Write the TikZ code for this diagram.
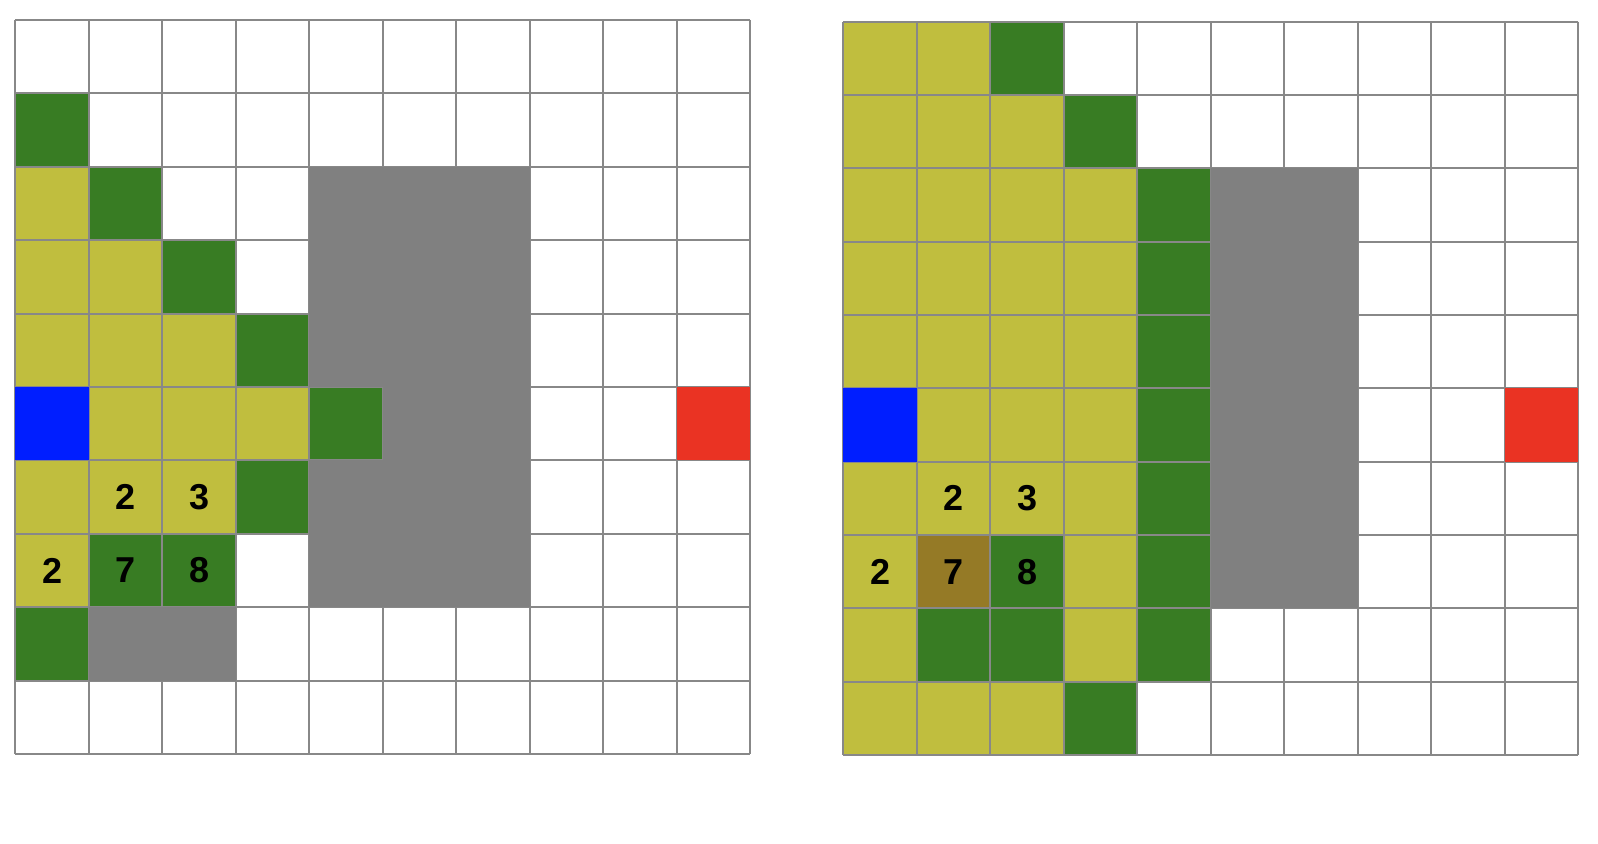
\documentclass[tikz,border=0pt]{standalone}
\usepackage{fontspec}
\setmainfont{Liberation Sans}
\definecolor{cGreen}{RGB}{56,124,35}
\definecolor{cYellow}{RGB}{192,190,62}
\definecolor{cWall}{RGB}{128,128,128}
\definecolor{cLine}{RGB}{136,136,136}
\definecolor{cBlue}{RGB}{0,30,255}
\definecolor{cRed}{RGB}{234,51,35}
\definecolor{cBrown}{RGB}{149,122,38}
\tikzset{
  gridline/.style={draw=cLine, line width=1pt},
  numlabel/.style={font=\fontsize{18}{20}\selectfont\bfseries, text=black, inner sep=0pt},
}
\begin{document}
\begin{tikzpicture}[x=0.5pt,y=-0.5pt]
\fill[white] (0,0) rectangle (1598,844);
\useasboundingbox (0,0) rectangle (1598,844);
% ---------------- left grid ----------------
\begin{scope}[shift={(7.65pt,-10pt)},x=36.75pt,y=-36.7pt]
  \foreach \c/\r in {0/2,0/3,1/3,0/4,1/4,2/4,1/5,2/5,3/5,0/6,1/6,2/6,0/7}
    \fill[cYellow] (\c,\r) rectangle ++(1,1);
  \foreach \c/\r in {0/1,1/2,2/3,3/4,4/5,3/6,1/7,2/7,0/8}
    \fill[cGreen] (\c,\r) rectangle ++(1,1);
  \foreach \k in {0,...,10} {
    \draw[gridline] (\k,0) -- (\k,10);
    \draw[gridline] (0,\k) -- (10,\k);
  }
  \fill[cWall] (4,2) rectangle (7,5);
  \fill[cWall] (5,5) rectangle (7,6);
  \fill[cWall] (4,6) rectangle (7,8);
  \fill[cWall] (1,8) rectangle (3,9);
  \fill[cBlue] (0,5) rectangle ++(1,1);
  \fill[cRed] (9,5) rectangle ++(1,1);
  \node[numlabel] (lA) at (1.5,6.5) {2};
  \node[numlabel] (lB) at (2.5,6.5) {3};
  \node[numlabel] (lC) at (0.5,7.5) {2};
  \node[numlabel] (lD) at (1.5,7.5) {7};
  \node[numlabel] (lE) at (2.5,7.5) {8};
\end{scope}
% ---------------- right grid ----------------
\begin{scope}[shift={(421.65pt,-10.85pt)},x=36.75pt,y=-36.67pt]
  \foreach \c/\r in {0/0,1/0,0/1,1/1,2/1,
                     0/2,1/2,2/2,3/2,0/3,1/3,2/3,3/3,0/4,1/4,2/4,3/4,
                     1/5,2/5,3/5,0/6,1/6,2/6,3/6,0/7,3/7,0/8,3/8,0/9,1/9,2/9}
    \fill[cYellow] (\c,\r) rectangle ++(1,1);
  \foreach \c/\r in {2/0,3/1,4/2,4/3,4/4,4/5,4/6,4/7,4/8,2/7,1/8,2/8,3/9}
    \fill[cGreen] (\c,\r) rectangle ++(1,1);
  \fill[cBrown] (1,7) rectangle ++(1,1);
  \foreach \k in {0,...,10} {
    \draw[gridline] (\k,0) -- (\k,10);
    \draw[gridline] (0,\k) -- (10,\k);
  }
  \fill[cWall] (5,2) rectangle (7,8);
  \fill[cBlue] (0,5) rectangle ++(1,1);
  \fill[cRed] (9,5) rectangle ++(1,1);
  \node[numlabel] (rA) at (1.5,6.5) {2};
  \node[numlabel] (rB) at (2.5,6.5) {3};
  \node[numlabel] (rC) at (0.5,7.5) {2};
  \node[numlabel] (rD) at (1.5,7.5) {7};
  \node[numlabel] (rE) at (2.5,7.5) {8};
\end{scope}
\end{tikzpicture}
\end{document}
